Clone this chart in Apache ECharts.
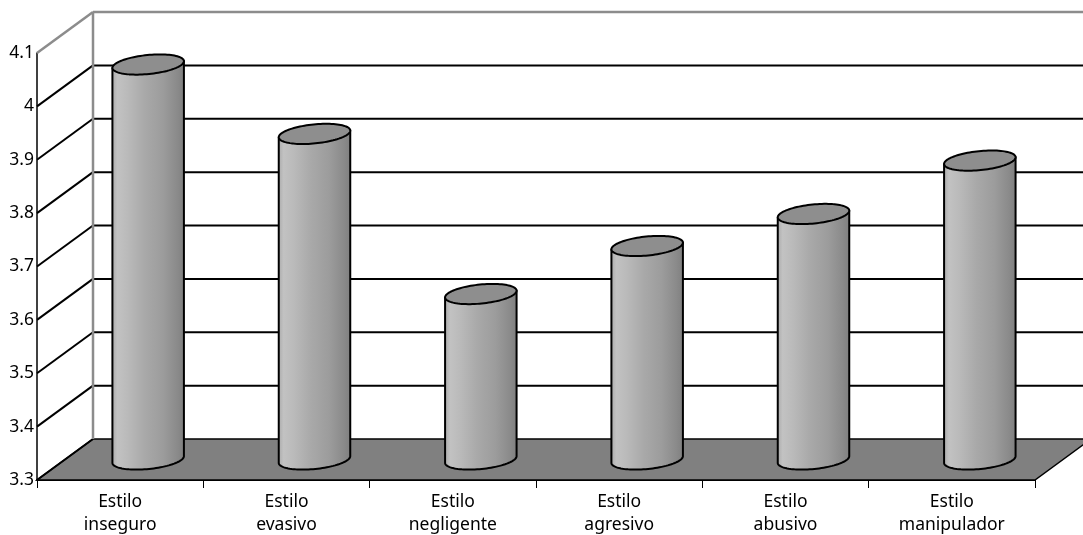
<!DOCTYPE html>
<html>
<head>
<meta charset="utf-8">
<script src="https://cdn.jsdelivr.net/npm/echarts@6/dist/echarts.min.js"></script>
<style>
html,body{margin:0;padding:0;background:#fff;}
#chart{width:1083px;height:535px;}
</style>
</head>
<body>
<div id="chart"></div>
<script>
// ---- data ----
const categories = ['Estilo\ninseguro', 'Estilo\nevasivo', 'Estilo\nnegligente', 'Estilo\nagresivo', 'Estilo\nabusivo', 'Estilo\nmanipulador'];
const values = [4.04, 3.91, 3.61, 3.70, 3.76, 3.86];
const yTicks = [3.3, 3.4, 3.5, 3.6, 3.7, 3.8, 3.9, 4.0, 4.1];
const Y_MIN = 3.3, Y_MAX = 4.1, Y_STEP = 0.1;

// ---- 3D look (depth offsets in px) ----
const DX = 56, DY = -41;
const FONT = 'Noto Sans';
const TILT = -0.1;

const chart = echarts.init(document.getElementById('chart'), null, {renderer: 'canvas'});

function ellPt(cx, cy, rx, ry, t) {
  const c = Math.cos(TILT), s = Math.sin(TILT);
  return [cx + rx * Math.cos(t) * c - ry * Math.sin(t) * s,
          cy + rx * Math.cos(t) * s + ry * Math.sin(t) * c];
}

const option = {
  animation: false,
  backgroundColor: '#ffffff',
  grid: {left: 37, right: 48, top: 53, bottom: 55, containLabel: false, outerBoundsMode: 'none'},
  xAxis: {
    type: 'category',
    data: categories,
    axisLine: {lineStyle: {color: '#000', width: 2}},
    axisTick: {show: true, length: 8, lineStyle: {color: '#000', width: 1}},
    axisLabel: {color: '#000', fontSize: 17.5, lineHeight: 23, margin: 11, fontFamily: FONT},
    splitLine: {show: false}
  },
  yAxis: {
    type: 'value',
    min: Y_MIN, max: Y_MAX, interval: Y_STEP,
    axisLine: {show: true, lineStyle: {color: '#000', width: 1.5}},
    axisTick: {show: false},
    splitLine: {show: false},
    axisLabel: {color: '#000', fontSize: 17.5, margin: 3, fontFamily: FONT,
      formatter: v => String(Math.round(v * 10) / 10)}
  },
  series: [
    {
      type: 'custom', name: 'floor', z: 1, silent: true,
      data: [[0, Y_MIN]],
      renderItem(params, api) {
        const cs = params.coordSys;
        const y = api.coord([0, api.value(1)])[1];
        const x0 = cs.x, x1 = cs.x + cs.width;
        return {
          type: 'polygon',
          shape: {points: [[x0, y], [x1, y], [x1 + DX, y + DY], [x0 + DX, y + DY]]},
          style: {fill: '#808080', stroke: '#000', lineWidth: 1.5}
        };
      }
    },
    {
      type: 'custom', name: 'walls', z: 2, silent: true,
      data: yTicks.map(v => [0, v]),
      renderItem(params, api) {
        const cs = params.coordSys;
        const v = api.value(1);
        const y = api.coord([0, v])[1];
        const yFloor = api.coord([0, Y_MIN])[1];
        const x0 = cs.x, x1 = cs.x + cs.width;
        const isTop = Math.abs(v - Y_MAX) < 1e-6;
        const isBottom = Math.abs(v - Y_MIN) < 1e-6;
        const col = isTop ? '#8c8c8c' : '#000';
        const children = [];
        children.push({type: 'line', shape: {x1: x0, y1: y, x2: x0 + DX, y2: y + DY},
          style: {stroke: col, lineWidth: isTop ? 2.5 : 2}});
        if (!isBottom) {
          children.push({type: 'line', shape: {x1: x0 + DX, y1: y + DY, x2: x1 + DX, y2: y + DY},
            style: {stroke: col, lineWidth: isTop ? 2.5 : 2}});
        }
        if (isTop) {
          children.push({type: 'line', shape: {x1: x0 + DX, y1: y + DY, x2: x0 + DX, y2: yFloor + DY},
            style: {stroke: '#8c8c8c', lineWidth: 2.5}});
        }
        return {type: 'group', children};
      }
    },
    {
      type: 'custom', name: 'cylinders', z: 3, silent: true,
      data: values.map((v, i) => [i, v]),
      renderItem(params, api) {
        const i = api.value(0), v = api.value(1);
        const top = api.coord([i, v]);
        const base = api.coord([i, Y_MIN]);
        const bw = api.size([1, 0])[0];
        const rx = bw * 0.216, ry = 9.5;
        const cx = top[0] + DX / 2;
        const ty = top[1] + DY / 2;
        const by = base[1] + DY / 2;
        const N = 48;
        const body = [];
        body.push(ellPt(cx, ty, rx, ry, Math.PI));
        for (let k = 0; k <= N; k++) {
          body.push(ellPt(cx, by, rx, ry, Math.PI - k * Math.PI / N));
        }
        body.push(ellPt(cx, ty, rx, ry, 0));
        const cap = [];
        for (let k = 0; k < 2 * N; k++) cap.push(ellPt(cx, ty, rx, ry, k * Math.PI / N));
        const grad = new echarts.graphic.LinearGradient(0, 0, 1, 0, [
          {offset: 0, color: '#a8a8a8'},
          {offset: 0.08, color: '#c2c2c2'},
          {offset: 0.22, color: '#bababa'},
          {offset: 0.45, color: '#a9a9a9'},
          {offset: 0.7, color: '#9c9c9c'},
          {offset: 0.9, color: '#8a8a8a'},
          {offset: 1, color: '#7e7e7e'}
        ]);
        return {
          type: 'group',
          children: [
            {type: 'polygon', shape: {points: body},
              style: {fill: grad, stroke: '#000', lineWidth: 2, lineJoin: 'round'}},
            {type: 'polygon', shape: {points: cap},
              style: {fill: '#8e8e8e', stroke: '#000', lineWidth: 2, lineJoin: 'round'}}
          ]
        };
      }
    }
  ]
};
chart.setOption(option);
</script>
</body>
</html>
